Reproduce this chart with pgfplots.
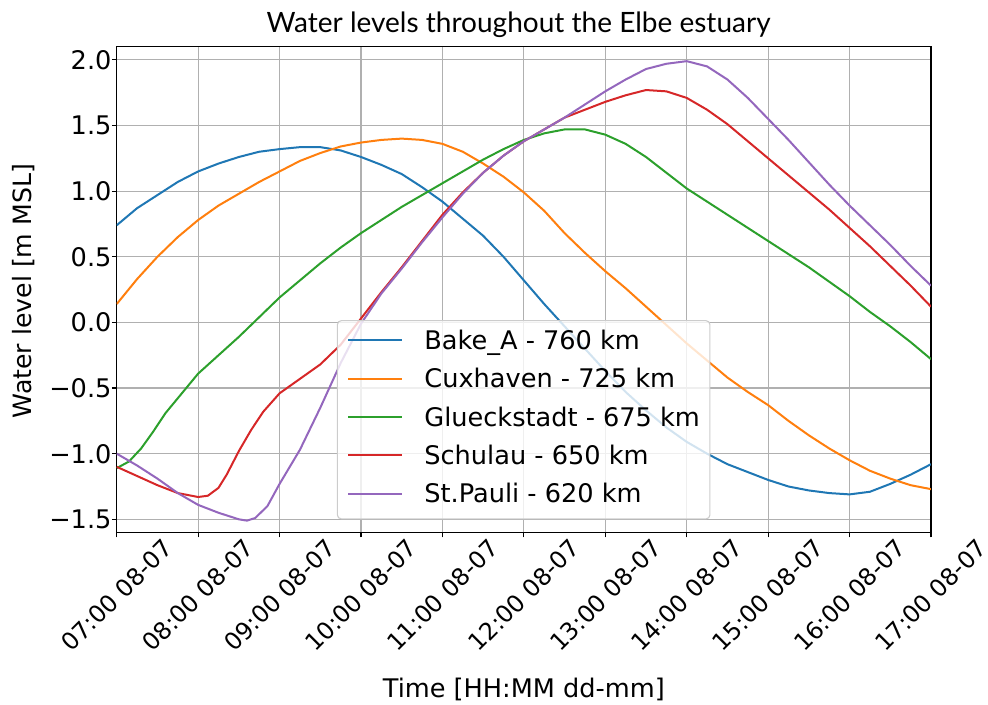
\documentclass[border=0pt]{standalone}
\usepackage{fontspec}
\setmainfont{DejaVu Sans}
\newfontfamily\titlefont{Lato}
\usepackage{pgfplots}
\pgfplotsset{compat=1.18}
\definecolor{c0}{HTML}{1F77B4}
\definecolor{c1}{HTML}{FF7F0E}
\definecolor{c2}{HTML}{2CA02C}
\definecolor{c3}{HTML}{D62728}
\definecolor{c4}{HTML}{9467BD}
\definecolor{gridgray}{HTML}{B0B0B0}
\definecolor{legendgray}{HTML}{CCCCCC}
\newcommand{\rl}[1]{\rotatebox{45}{#1}}
\begin{document}
\begin{tikzpicture}
\useasboundingbox (-58.35pt,-85.85pt) rectangle (435.5pt,266.15pt);
\begin{axis}[
  width=407pt, height=242.8pt, scale only axis,
  xmin=0, xmax=10, ymin=-1.6, ymax=2.1,
  xtick={0,1,2,3,4,5,6,7,8,9,10},
  xticklabels={\rl{07:00 08-07},\rl{08:00 08-07},\rl{09:00 08-07},\rl{10:00 08-07},\rl{11:00 08-07},\rl{12:00 08-07},\rl{13:00 08-07},\rl{14:00 08-07},\rl{15:00 08-07},\rl{16:00 08-07},\rl{17:00 08-07}},
  ytick={-1.5,-1,-0.5,0,0.5,1,1.5,2},
  yticklabels={−1.5,−1.0,−0.5,0.0,0.5,1.0,1.5,2.0},
  grid=major, grid style={color=gridgray, line width=0.55pt},
  axis line style={line width=0.55pt},
  tick align=outside, major tick length=2.43pt,
  tick style={black, line width=0.55pt},
  xtick pos=lower, ytick pos=left,
  yticklabel style={anchor=east, inner sep=0pt, font=\fontsize{12.8}{15}\selectfont},
  xticklabel style={anchor=north, inner sep=0pt, font=\fontsize{11.9}{14}\selectfont},
  title={Water levels throughout the Elbe estuary},
  every axis title/.style={at={(0.4936,1)}, anchor=base, yshift=7.35pt, inner sep=0pt, font=\titlefont\fontsize{14}{16}\selectfont},
  xlabel={Time [HH:MM dd-mm]},
  ylabel={Water level [m MSL]},
  every axis x label/.style={at={(axis description cs:0.5,-0.3227)}, anchor=center, font=\fontsize{12.8}{15}\selectfont},
  every axis y label/.style={at={(axis description cs:-0.1139,0.497)}, rotate=90, anchor=center, font=\fontsize{12.6}{15}\selectfont},
  legend cell align=left,
  legend image code/.code={\draw[#1] (0pt,1.4pt) -- (27pt,1.4pt);},
  legend style={at={(0.2703,0.4372)}, anchor=north west, draw=legendgray, line width=0.55pt,
    rounded corners=2pt, fill=white, fill opacity=0.8, text opacity=1,
    font=\fontsize{12.8}{15}\selectfont, inner xsep=5pt, inner ysep=5pt,
    row sep=6.65pt, column sep=10.5pt,
    nodes={inner sep=0pt, text height=9.5pt, text depth=3pt}},
  every axis plot/.append style={line width=1pt},
]
\addplot[c0] coordinates {(0,0.74)(0.25,0.87)(0.5,0.97)(0.75,1.07)(1,1.15)(1.25,1.21)(1.5,1.26)(1.75,1.30)(2,1.32)(2.25,1.335)(2.5,1.335)(2.75,1.31)(3,1.26)(3.25,1.20)(3.5,1.13)(3.75,1.03)(4,0.92)(4.25,0.79)(4.5,0.66)(4.75,0.50)(5,0.32)(5.25,0.14)(5.5,-0.03)(5.75,-0.20)(6,-0.37)(6.25,-0.53)(6.5,-0.67)(6.75,-0.80)(7,-0.91)(7.25,-1.00)(7.5,-1.08)(7.75,-1.14)(8,-1.20)(8.25,-1.25)(8.5,-1.28)(8.75,-1.30)(9,-1.31)(9.25,-1.29)(9.5,-1.23)(9.75,-1.16)(10,-1.08)};
\addlegendentry{Bake\_A - 760 km}
\addplot[c1] coordinates {(0,0.14)(0.25,0.33)(0.5,0.50)(0.75,0.65)(1,0.78)(1.25,0.89)(1.5,0.98)(1.75,1.07)(2,1.15)(2.25,1.23)(2.5,1.29)(2.75,1.34)(3,1.37)(3.25,1.39)(3.5,1.40)(3.75,1.39)(4,1.36)(4.25,1.30)(4.5,1.21)(4.75,1.11)(5,0.99)(5.25,0.85)(5.5,0.68)(5.75,0.53)(6,0.39)(6.25,0.26)(6.5,0.12)(6.75,-0.02)(7,-0.16)(7.25,-0.29)(7.5,-0.42)(7.75,-0.53)(8,-0.63)(8.25,-0.75)(8.5,-0.86)(8.75,-0.96)(9,-1.05)(9.25,-1.13)(9.5,-1.19)(9.75,-1.24)(10,-1.27)};
\addlegendentry{Cuxhaven - 725 km}
\addplot[c2] coordinates {(0,-1.11)(0.15,-1.06)(0.3,-0.96)(0.45,-0.83)(0.6,-0.69)(0.8,-0.54)(1,-0.39)(1.25,-0.25)(1.5,-0.11)(1.75,0.04)(2,0.19)(2.25,0.32)(2.5,0.45)(2.75,0.57)(3,0.68)(3.25,0.78)(3.5,0.88)(3.75,0.97)(4,1.06)(4.25,1.15)(4.5,1.24)(4.75,1.32)(5,1.39)(5.25,1.44)(5.5,1.47)(5.75,1.47)(6,1.43)(6.25,1.36)(6.5,1.26)(6.75,1.14)(7,1.02)(7.25,0.92)(7.5,0.82)(7.75,0.72)(8,0.62)(8.25,0.52)(8.5,0.42)(8.75,0.31)(9,0.20)(9.25,0.08)(9.5,-0.03)(9.75,-0.15)(10,-0.28)};
\addlegendentry{Glueckstadt - 675 km}
\addplot[c3] coordinates {(0,-1.10)(0.25,-1.17)(0.5,-1.24)(0.75,-1.30)(1,-1.33)(1.12,-1.32)(1.25,-1.26)(1.35,-1.16)(1.5,-0.98)(1.65,-0.82)(1.8,-0.68)(2,-0.54)(2.25,-0.43)(2.5,-0.32)(2.75,-0.17)(3,0.03)(3.25,0.23)(3.5,0.42)(3.75,0.62)(4,0.82)(4.25,0.99)(4.5,1.14)(4.75,1.27)(5,1.38)(5.25,1.47)(5.5,1.56)(5.75,1.62)(6,1.68)(6.25,1.73)(6.5,1.77)(6.75,1.76)(7,1.71)(7.25,1.62)(7.5,1.51)(7.75,1.38)(8,1.25)(8.25,1.12)(8.5,0.99)(8.75,0.86)(9,0.72)(9.25,0.58)(9.5,0.43)(9.75,0.28)(10,0.12)};
\addlegendentry{Schulau - 650 km}
\addplot[c4] coordinates {(0,-1.00)(0.25,-1.09)(0.5,-1.19)(0.75,-1.30)(1,-1.39)(1.25,-1.45)(1.5,-1.50)(1.6,-1.51)(1.7,-1.49)(1.85,-1.40)(2,-1.23)(2.25,-0.97)(2.5,-0.65)(2.75,-0.31)(3,-0.01)(3.25,0.22)(3.5,0.41)(3.75,0.61)(4,0.80)(4.25,0.98)(4.5,1.14)(4.75,1.27)(5,1.38)(5.25,1.47)(5.5,1.56)(5.75,1.66)(6,1.76)(6.25,1.85)(6.5,1.93)(6.75,1.97)(7,1.99)(7.25,1.95)(7.5,1.85)(7.75,1.71)(8,1.55)(8.25,1.39)(8.5,1.22)(8.75,1.05)(9,0.89)(9.25,0.74)(9.5,0.59)(9.75,0.43)(10,0.28)};
\addlegendentry{St.Pauli - 620 km}
\end{axis}
\end{tikzpicture}
\end{document}
